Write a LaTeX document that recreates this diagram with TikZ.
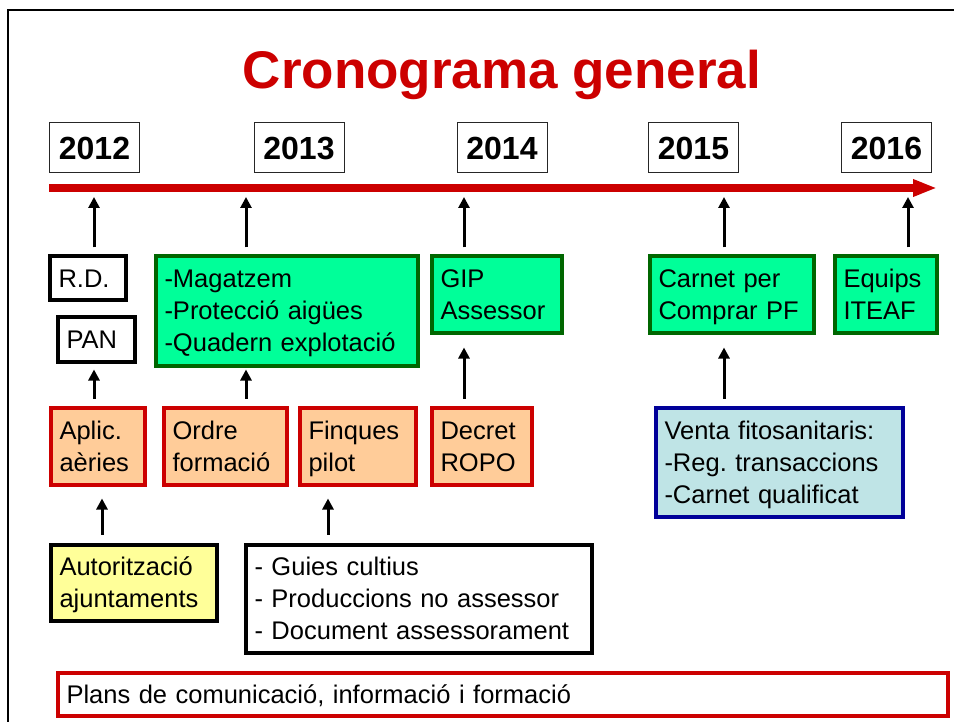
\documentclass[tikz,border=0pt]{standalone}
\usepackage{fontspec}
\setmainfont{Liberation Sans}
\usetikzlibrary{arrows.meta}
\definecolor{cronred}{HTML}{CC0000}
\definecolor{boxgreen}{HTML}{006600}
\definecolor{fillgreen}{HTML}{00FF99}
\definecolor{fillorange}{HTML}{FFCC99}
\definecolor{boxblue}{HTML}{000099}
\definecolor{fillblue}{HTML}{BFE4E6}
\definecolor{fillyellow}{HTML}{FFFF99}
\frenchspacing
\begin{document}
\begin{tikzpicture}[x=1pt, y=-1pt,
  yearbox/.style={draw=black!85, line width=1pt, fill=white, minimum width=90pt, minimum height=50pt, inner sep=0pt, text height=23pt, text depth=0pt, font=\fontsize{32}{38}\selectfont\bfseries},
  txtbox/.style={line width=4pt, align=left, inner xsep=9pt, inner ysep=2pt, font=\fontsize{25.5}{32}\selectfont,
    execute at begin node={\vrule height 25pt depth 0pt width 0pt}, execute at end node={\vrule height 0pt depth 7pt width 0pt}},
  whitebox/.style={txtbox, draw=black, fill=white},
  greenbox/.style={txtbox, draw=boxgreen, fill=fillgreen},
  orangebox/.style={txtbox, draw=cronred, fill=fillorange},
  bluebox/.style={txtbox, draw=boxblue, fill=fillblue},
  yellowbox/.style={txtbox, draw=black, fill=fillyellow},
  redbox/.style={txtbox, draw=cronred, fill=white},
  up/.style={-{Triangle[length=11pt,width=11pt]}, line width=3pt},
  timeline/.style={-{Triangle[length=24pt,width=16pt]}, line width=8pt, draw=cronred}]
\useasboundingbox (0,0) rectangle (954,722);
\draw[line width=2pt] (8,722) -- (8,10) -- (954,10);
\node[anchor=base, text=cronred, font=\fontsize{53}{60}\selectfont\bfseries] (title) at (502,89) {Cronograma general};
% years
\node[yearbox] (yr12) at (94.5,148) {2012};
\node[yearbox] (yr13) at (299,148) {2013};
\node[yearbox] (yr14) at (502,148) {2014};
\node[yearbox] (yr15) at (693.5,148) {2015};
\node[yearbox] (yr16) at (886.5,148) {2016};
\coordinate (ts) at (49,188);
\coordinate (te) at (937,188);
\draw[timeline] (ts) -- (te);
\coordinate (t12) at (94,197);
\coordinate (t13) at (246,197);
\coordinate (t14) at (464,197);
\coordinate (t15) at (724,197);
\coordinate (t16) at (908,197);
% first row
\node[whitebox, minimum width=76pt, minimum height=44pt, text width=58pt] (rd) at (87.5,278.5) {R.D.};
\node[whitebox, minimum width=77pt, minimum height=44pt, text width=59pt] (pan) at (96,339.5) {PAN};
\node[greenbox, minimum width=262pt, minimum height=109pt, text width=244pt] (gb13) at (286.5,311) {-Magatzem\\-Protecció aigües\\-Quadern explotació};
\node[greenbox, minimum width=130pt, minimum height=77pt, text width=112pt] (gb14) at (496.5,295) {GIP\\Assessor};
\node[greenbox, minimum width=164pt, minimum height=77pt, text width=146pt] (gb15) at (731.5,295) {Carnet per\\Comprar PF};
\node[greenbox, minimum width=102pt, minimum height=77pt, text width=84pt] (gb16) at (885.5,295) {Equips\\ITEAF};
\draw[up, shorten <=7pt] (rd.north -| t12) -- (t12);
\draw[up, shorten <=7pt] (gb13.north -| t13) -- (t13);
\draw[up, shorten <=7pt] (gb14.north -| t14) -- (t14);
\draw[up, shorten <=7pt] (gb15.north -| t15) -- (t15);
\draw[up, shorten <=7pt] (gb16.north -| t16) -- (t16);
% second row
\node[orangebox, minimum width=94pt, minimum height=77pt, text width=76pt] (ob0) at (97.5,446) {Aplic.\\aèries};
\node[orangebox, minimum width=123pt, minimum height=77pt, text width=105pt] (ob1) at (225,446) {Ordre\\formació};
\node[orangebox, minimum width=116pt, minimum height=77pt, text width=98pt] (ob2) at (357.5,446) {Finques\\pilot};
\node[orangebox, minimum width=100pt, minimum height=77pt, text width=82pt] (ob3) at (481.5,446) {Decret\\ROPO};
\node[bluebox, minimum width=247pt, minimum height=109pt, text width=229pt] (venta) at (779,462) {Venta fitosanitaris:\\-Reg. transaccions\\-Carnet qualificat};
\draw[up, shorten <=7pt, shorten >=6pt] (ob0.north -| t12) -- (pan.south -| t12);
\draw[up, shorten <=7pt, shorten >=2pt] (ob1.north -| t13) -- (gb13.south -| t13);
\draw[up, shorten <=7pt, shorten >=12pt] (ob3.north -| t14) -- (gb14.south -| t14);
\draw[up, shorten <=7pt, shorten >=12pt] (venta.north -| t15) -- (gb15.south -| t15);
% third row
\node[yellowbox, minimum width=166pt, minimum height=76pt, text width=148pt] (autor) at (133.5,582.5) {Autorització\\ajuntaments};
\node[whitebox, minimum width=346pt, minimum height=108pt, text width=328pt] (guies) at (418.5,598.5) {- Guies cultius\\- Produccions no assessor\\- Document assessorament};
\draw[up, shorten <=8pt, shorten >=12pt] ([xshift=-31.5pt]autor.north) -- ([xshift=4.5pt]ob0.south);
\draw[up, shorten <=8pt, shorten >=12pt] ([xshift=-90.5pt]guies.north) -- ([xshift=-29.5pt]ob2.south);
\node[redbox, minimum width=890pt, minimum height=43pt, text width=872pt] (plans) at (502.5,694) {Plans de comunicació, informació i formació};
\end{tikzpicture}
\end{document}
